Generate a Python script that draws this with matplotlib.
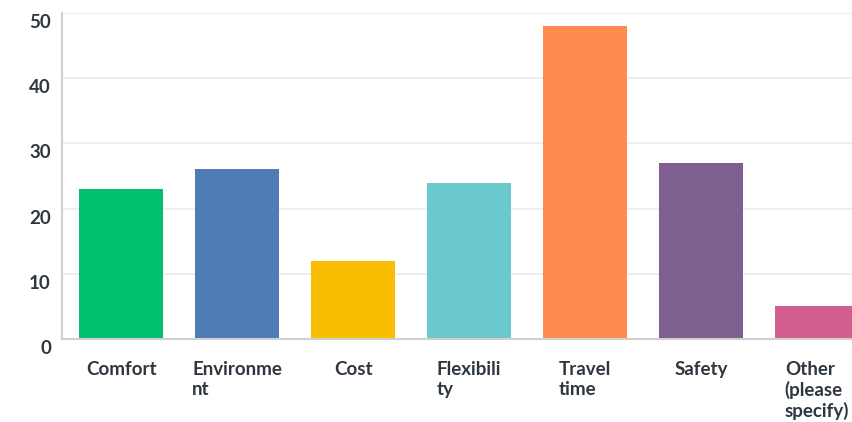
import matplotlib
matplotlib.use("Agg")
import matplotlib.pyplot as plt
from matplotlib.transforms import ScaledTranslation
import numpy as np

# Данные опроса
categories = ["Comfort", "Environme\nnt", "Cost", "Flexibili\nty",
              "Travel\ntime", "Safety", "Other\n(please\nspecify)"]
values = [23, 26, 12, 24, 48, 27, 5]
colors = ["#00BF6F", "#507CB6", "#F9BE00", "#6BC8CD",
          "#FF8B4F", "#7F5F90", "#D25F90"]
y_ticks = [0, 10, 20, 30, 40, 50]

text_color = "#2E3740"
plt.rcParams["font.family"] = ["Lato", "DejaVu Sans"]

fig = plt.figure(figsize=(8.53, 4.22), dpi=100)
ax = fig.add_axes([62 / 853, 83 / 422, 1 - 62 / 853, 326 / 422])

x = np.arange(len(categories))
width = 0.73
ax.bar(x, values, width=width, color=colors, zorder=2)

ax.set_xlim(-0.51, len(categories) - 1 + 0.31)
ax.set_ylim(0, 50)

# Сетка и оси
ax.set_yticks(y_ticks)
ax.yaxis.grid(True, color="#EBEBEB", linewidth=1.2, zorder=0)
ax.set_axisbelow(True)
for side in ("top", "right"):
    ax.spines[side].set_visible(False)
ax.spines["left"].set_color("#D0D0D0")
ax.spines["bottom"].set_color("#D0D0D0")
ax.spines["left"].set_linewidth(1.5)
ax.spines["bottom"].set_linewidth(1.5)

ax.tick_params(axis="y", length=0, pad=8, labelsize=13.5, labelcolor=text_color)
ax.tick_params(axis="x", length=0, pad=16)
for lbl in ax.get_yticklabels():
    lbl.set_fontweight("bold")
    lbl.set_transform(lbl.get_transform() + ScaledTranslation(0, -0.08, fig.dpi_scale_trans))

# Подписи категорий — блок по центру столбца, строки по левому краю
ax.set_xticks(x)
ax.set_xticklabels(categories, ha="center", va="top", multialignment="left",
                   fontsize=13.5, fontweight="bold", color=text_color,
                   linespacing=1.2)

fig.savefig("out.png", dpi=100)
